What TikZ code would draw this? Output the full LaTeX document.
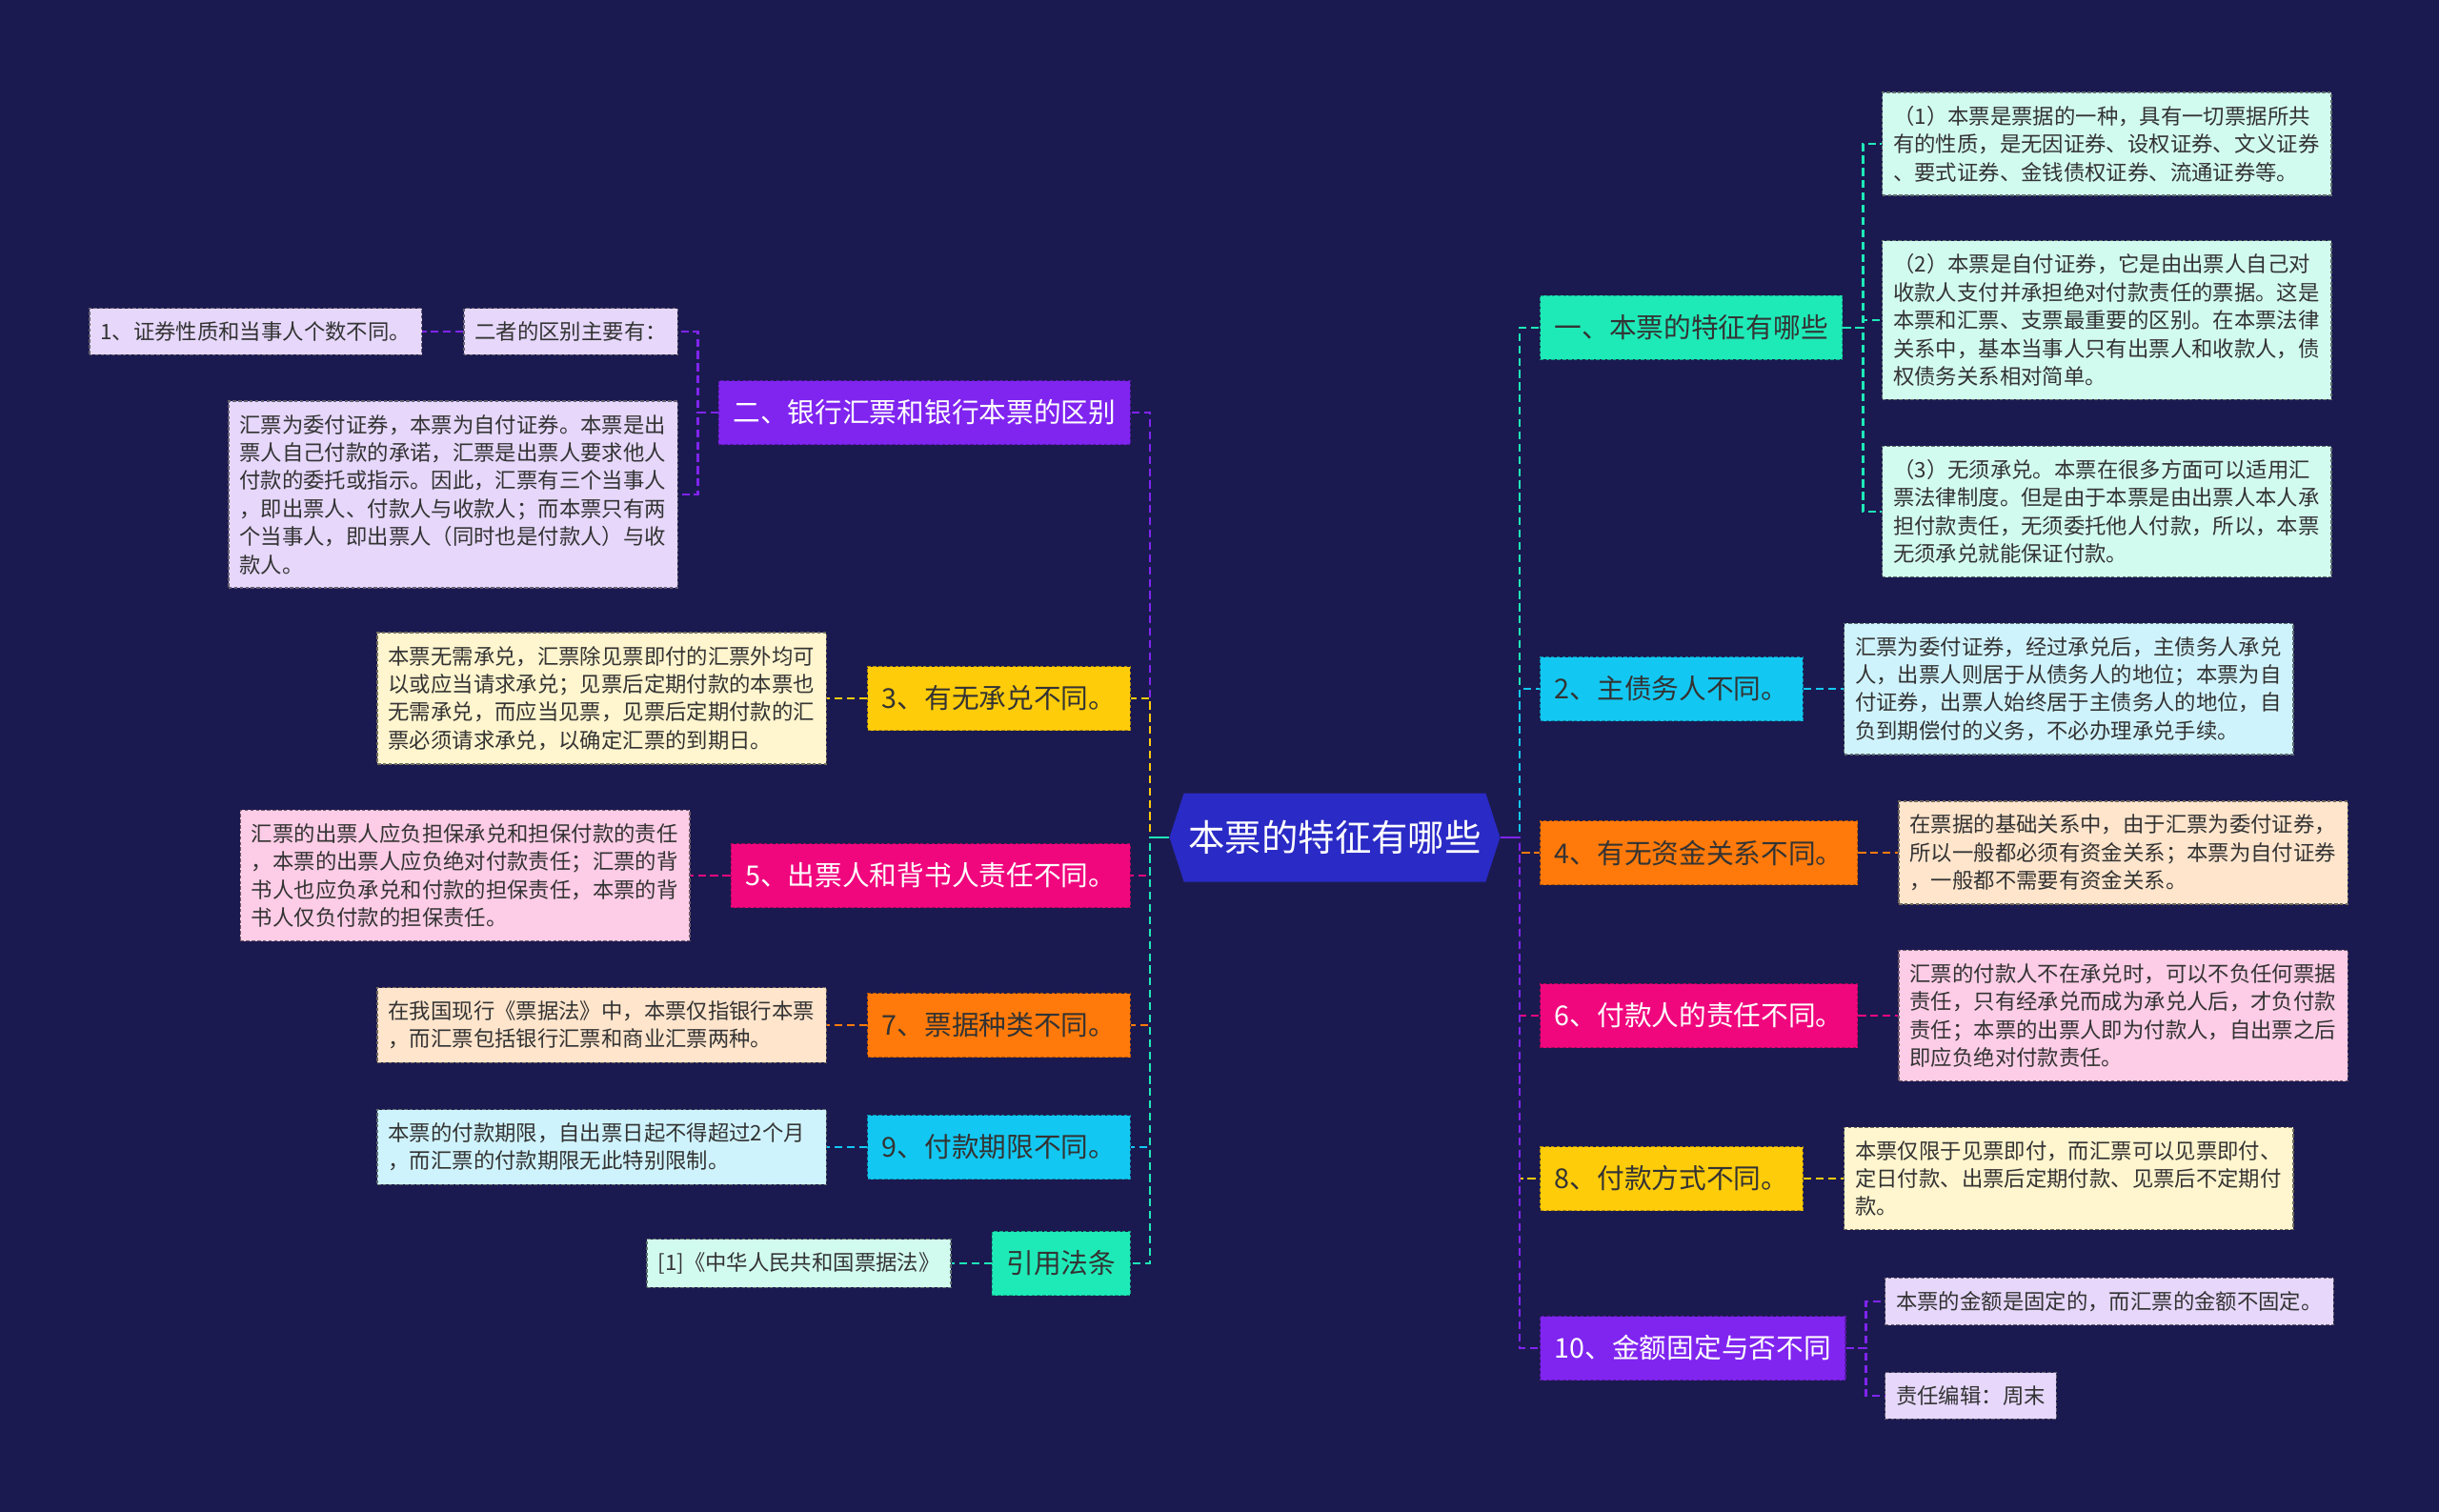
\documentclass[tikz,border=0pt]{standalone}
\usepackage{fontspec}
\setmainfont{Noto Sans CJK SC}
\usepackage{tikz}
\usetikzlibrary{positioning,shapes.symbols}

\definecolor{bgnavy}{HTML}{1B1A50}
\definecolor{rootblue}{HTML}{2A2AC6}
\definecolor{vio}{HTML}{8024F0}
\definecolor{vioL}{HTML}{E6D7FB}
\definecolor{gold}{HTML}{FFCC0A}
\definecolor{goldL}{HTML}{FFF5CE}
\definecolor{rose}{HTML}{F0077E}
\definecolor{roseL}{HTML}{FDCCE6}
\definecolor{amber}{HTML}{FF7A0A}
\definecolor{amberL}{HTML}{FFE5CC}
\definecolor{sky}{HTML}{12C8F2}
\definecolor{skyL}{HTML}{CFF3FC}
\definecolor{mint}{HTML}{1EEAB8}
\definecolor{mintL}{HTML}{D2FBF0}
\definecolor{ink}{HTML}{333333}

\begin{document}
\begin{tikzpicture}[x=3cm, y=-3cm,
	rootnode/.style={signal, signal to=west and east, signal pointer angle=144, fill=rootblue, text=white, minimum width=10.41cm, minimum height=2.79cm, inner xsep=0pt, font=\fontsize{32.8pt}{38pt}\selectfont},
	branchnode/.style 2 args={rectangle, fill=#1, draw=#1!70!black, densely dashed, line width=1.2pt, text=#2, minimum height=2.01cm, inner xsep=0.45cm, font=\fontsize{24.5pt}{29pt}\selectfont},
	leafnode/.style={rectangle, fill=#1, draw=#1!45!black, densely dashed, line width=1.2pt, text=ink, inner xsep=0.345cm, inner ysep=12pt, align=left, font=\fontsize{19.1pt}{25.1pt}\selectfont},
	widenode/.style={text width=13.45cm},
	link/.style={draw=#1, line width=2.3pt, dash pattern=on 7pt off 4pt}]
		\fill[bgnavy] (0,0) rectangle (25.6,15.87);
		\node[rootnode] (0) at (14.01, 8.79) {本票的特征有哪些};
		\coordinate (sl) at (12.07, 8.79);
		\coordinate (sr) at (15.95, 8.79);
		
		\node[branchnode={vio}{white}, anchor=east] (l2) at (11.87, 4.33) {二、银行汇票和银行本票的区别};
		\node[branchnode={gold}{ink}, anchor=east] (l3) at (11.87, 7.33) {3、有无承兑不同。};
		\node[branchnode={rose}{white}, anchor=east] (l5) at (11.87, 9.19) {5、出票人和背书人责任不同。};
		\node[branchnode={amber}{ink}, anchor=east] (l7) at (11.87, 10.76) {7、票据种类不同。};
		\node[branchnode={sky}{ink}, anchor=east] (l9) at (11.87, 12.04) {9、付款期限不同。};
		\node[branchnode={mint}{ink}, anchor=east] (lref) at (11.87, 13.26) {引用法条};
		
		\node[branchnode={mint}{ink}, anchor=west] (r1) at (16.16, 3.44) {一、本票的特征有哪些};
		\node[branchnode={sky}{ink}, anchor=west] (r2) at (16.16, 7.23) {2、主债务人不同。};
		\node[branchnode={amber}{ink}, anchor=west] (r4) at (16.16, 8.95) {4、有无资金关系不同。};
		\node[branchnode={rose}{white}, anchor=west] (r6) at (16.16, 10.66) {6、付款人的责任不同。};
		\node[branchnode={gold}{ink}, anchor=west] (r8) at (16.16, 12.37) {8、付款方式不同。};
		\node[branchnode={vio}{white}, anchor=west] (r10) at (16.16, 14.15) {10、金额固定与否不同};
		
		\node[leafnode=vioL, anchor=east] (l2a) at (7.12, 3.48) {二者的区别主要有：};
		\node[leafnode=vioL, left=1.29cm of l2a] (l2b) {1、证券性质和当事人个数不同。};
		\node[leafnode=vioL, widenode, anchor=east] (l2c) at (7.12, 5.19) {汇票为委付证券，本票为自付证券。本票是出\\票人自己付款的承诺，汇票是出票人要求他人\\付款的委托或指示。因此，汇票有三个当事人\\，即出票人、付款人与收款人；而本票只有两\\个当事人，即出票人（同时也是付款人）与收\\款人。};
		\node[leafnode=goldL, widenode, left=1.26cm of l3] (l3a) {本票无需承兑，汇票除见票即付的汇票外均可\\以或应当请求承兑；见票后定期付款的本票也\\无需承兑，而应当见票，见票后定期付款的汇\\票必须请求承兑，以确定汇票的到期日。};
		\node[leafnode=roseL, widenode, left=1.26cm of l5] (l5a) {汇票的出票人应负担保承兑和担保付款的责任\\，本票的出票人应负绝对付款责任；汇票的背\\书人也应负承兑和付款的担保责任，本票的背\\书人仅负付款的担保责任。};
		\node[leafnode=amberL, widenode, left=1.26cm of l7] (l7a) {在我国现行《票据法》中，本票仅指银行本票\\，而汇票包括银行汇票和商业汇票两种。};
		\node[leafnode=skyL, widenode, left=1.26cm of l9] (l9a) {本票的付款期限，自出票日起不得超过2个月\\，而汇票的付款期限无此特别限制。};
		\node[leafnode=mintL, left=1.26cm of lref] (lrefa) {[1]《中华人民共和国票据法》};
		
		\node[leafnode=mintL, widenode, anchor=west] (r1a) at (19.75, 1.51) {（1）本票是票据的一种，具有一切票据所共\\有的性质，是无因证券、设权证券、文义证券\\、要式证券、金钱债权证券、流通证券等。};
		\node[leafnode=mintL, widenode, anchor=west] (r1b) at (19.75, 3.36) {（2）本票是自付证券，它是由出票人自己对\\收款人支付并承担绝对付款责任的票据。这是\\本票和汇票、支票最重要的区别。在本票法律\\关系中，基本当事人只有出票人和收款人，债\\权债务关系相对简单。};
		\node[leafnode=mintL, widenode, anchor=west] (r1c) at (19.75, 5.37) {（3）无须承兑。本票在很多方面可以适用汇\\票法律制度。但是由于本票是由出票人本人承\\担付款责任，无须委托他人付款，所以，本票\\无须承兑就能保证付款。};
		\node[leafnode=skyL, widenode, right=1.26cm of r2] (r2a) {汇票为委付证券，经过承兑后，主债务人承兑\\人，出票人则居于从债务人的地位；本票为自\\付证券，出票人始终居于主债务人的地位，自\\负到期偿付的义务，不必办理承兑手续。};
		\node[leafnode=amberL, widenode, right=1.26cm of r4] (r4a) {在票据的基础关系中，由于汇票为委付证券，\\所以一般都必须有资金关系；本票为自付证券\\，一般都不需要有资金关系。};
		\node[leafnode=roseL, widenode, right=1.26cm of r6] (r6a) {汇票的付款人不在承兑时，可以不负任何票据\\责任，只有经承兑而成为承兑人后，才负付款\\责任；本票的出票人即为付款人，自出票之后\\即应负绝对付款责任。};
		\node[leafnode=goldL, widenode, right=1.26cm of r8] (r8a) {本票仅限于见票即付，而汇票可以见票即付、\\定日付款、出票后定期付款、见票后不定期付\\款。};
		\node[leafnode=vioL, anchor=west] (r10a) at (19.78, 13.66) {本票的金额是固定的，而汇票的金额不固定。};
		\node[leafnode=vioL, anchor=west] (r10b) at (19.78, 14.65) {责任编辑：周末};
		
		\draw[link=vio] (0.west) -- (sl) |- (l2.east);
		\draw[link=gold] (0.west) -- (sl) |- (l3.east);
		\draw[link=rose] (0.west) -- (sl) |- (l5.east);
		\draw[link=amber] (0.west) -- (sl) |- (l7.east);
		\draw[link=sky] (0.west) -- (sl) |- (l9.east);
		\draw[link=mint] (0.west) -- (sl) |- (lref.east);
		\draw[link=mint, solid] (0.west) -- (sl);
		\draw[link=mint] (0.east) -- (sr) |- (r1.west);
		\draw[link=sky] (0.east) -- (sr) |- (r2.west);
		\draw[link=amber] (0.east) -- (sr) |- (r4.west);
		\draw[link=rose] (0.east) -- (sr) |- (r6.west);
		\draw[link=gold] (0.east) -- (sr) |- (r8.west);
		\draw[link=vio] (0.east) -- (sr) |- (r10.west);
		\draw[link=vio, solid] (0.east) -- (sr);
		
		\draw[link=vio] (l2.west) -- ++(-0.63cm,0) |- (l2a.east);
		\draw[link=vio] (l2.west) -- ++(-0.63cm,0) |- (l2c.east);
		\draw[link=vio] (l2a.west) -- (l2b.east);
		\draw[link=gold] (l3.west) -- (l3a.east);
		\draw[link=rose] (l5.west) -- (l5a.east);
		\draw[link=amber] (l7.west) -- (l7a.east);
		\draw[link=sky] (l9.west) -- (l9a.east);
		\draw[link=mint] (lref.west) -- (lrefa.east);
		\draw[link=mint] (r1.east) -- ++(0.63cm,0) |- (r1a.west);
		\draw[link=mint] (r1.east) -- ++(0.63cm,0) |- (r1b.west);
		\draw[link=mint] (r1.east) -- ++(0.63cm,0) |- (r1c.west);
		\draw[link=sky] (r2.east) -- (r2a.west);
		\draw[link=amber] (r4.east) -- (r4a.west);
		\draw[link=rose] (r6.east) -- (r6a.west);
		\draw[link=gold] (r8.east) -- (r8a.west);
		\draw[link=vio] (r10.east) -- ++(0.63cm,0) |- (r10a.west);
		\draw[link=vio] (r10.east) -- ++(0.63cm,0) |- (r10b.west);
		
	\end{tikzpicture}
\end{document}
